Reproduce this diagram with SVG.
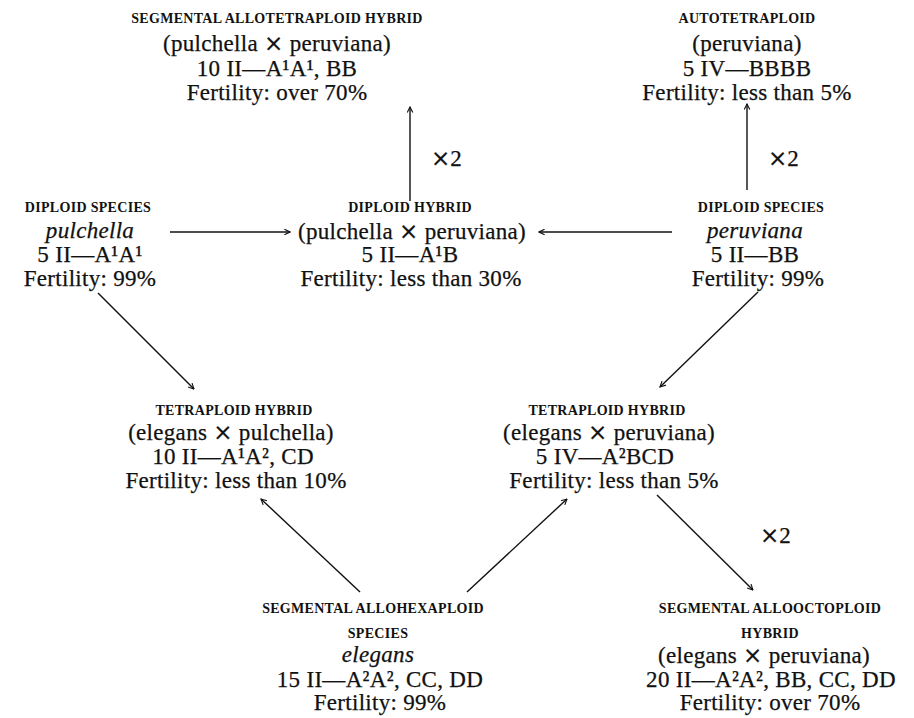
<svg xmlns="http://www.w3.org/2000/svg" width="914" height="718" viewBox="0 0 914 718">
<style>
  text { font-family: "Liberation Serif", "Times New Roman", serif; fill: #111; text-anchor: middle; }
  .h { font-size: 14px; font-weight: bold; letter-spacing: 0.3px; }
  .t { font-size: 23px; letter-spacing: 0.3px; stroke: #111; stroke-width: 0.25px; }
  .i { font-style: italic; }
  .x { font-size: 23px; text-anchor: start; stroke: #111; stroke-width: 0.25px; }
  .m { font-family: "DejaVu Sans", sans-serif; font-size: 23px; }
  .c line { stroke: #111; stroke-width: 1.4; fill: none; marker-end: url(#ah); }
</style>
<defs>
  <marker id="ah" viewBox="0 0 10 10" refX="9" refY="5" markerWidth="7" markerHeight="7" markerUnits="userSpaceOnUse" orient="auto">
    <path d="M1,1 L9,5 L1,9" fill="none" stroke="#111" stroke-width="1.6"/>
  </marker>
</defs>
<rect width="914" height="718" fill="#fff"/>

<g id="n-allotetraploid">
  <text class="h" x="277" y="23">SEGMENTAL ALLOTETRAPLOID HYBRID</text>
  <text class="t" x="277" y="51">(pulchella <tspan class="m">×</tspan> peruviana)</text>
  <text class="t" x="277" y="76">10 II—A¹A¹, BB</text>
  <text class="t" x="277" y="100">Fertility: over 70%</text>
</g>

<g id="n-autotetraploid">
  <text class="h" x="747" y="23">AUTOTETRAPLOID</text>
  <text class="t" x="747" y="51">(peruviana)</text>
  <text class="t" x="747" y="76">5 IV—BBBB</text>
  <text class="t" x="747" y="100">Fertility: less than 5%</text>
</g>

<g id="n-pulchella">
  <text class="h" x="88" y="212">DIPLOID SPECIES</text>
  <text class="t i" x="90" y="238">pulchella</text>
  <text class="t" x="90" y="262">5 II—A¹A¹</text>
  <text class="t" x="90" y="286">Fertility: 99%</text>
</g>

<g id="n-diploid-hybrid">
  <text class="h" x="410" y="212">DIPLOID HYBRID</text>
  <text class="t" x="412" y="239">(pulchella <tspan class="m">×</tspan> peruviana)</text>
  <text class="t" x="410" y="262">5 II—A¹B</text>
  <text class="t" x="411" y="286">Fertility: less than 30%</text>
</g>

<g id="n-peruviana">
  <text class="h" x="761" y="212">DIPLOID SPECIES</text>
  <text class="t i" x="755" y="238">peruviana</text>
  <text class="t" x="755" y="262">5 II—BB</text>
  <text class="t" x="758" y="286">Fertility: 99%</text>
</g>

<g id="n-tetra-pulchella">
  <text class="h" x="234" y="415">TETRAPLOID HYBRID</text>
  <text class="t" x="231" y="440">(elegans <tspan class="m">×</tspan> pulchella)</text>
  <text class="t" x="233" y="464">10 II—A¹A², CD</text>
  <text class="t" x="236" y="488">Fertility: less than 10%</text>
</g>

<g id="n-tetra-peruviana">
  <text class="h" x="607" y="415">TETRAPLOID HYBRID</text>
  <text class="t" x="609" y="440">(elegans <tspan class="m">×</tspan> peruviana)</text>
  <text class="t" x="605" y="464">5 IV—A²BCD</text>
  <text class="t" x="614" y="488">Fertility: less than 5%</text>
</g>

<g id="n-elegans">
  <text class="h" x="373" y="613">SEGMENTAL ALLOHEXAPLOID</text>
  <text class="h" x="378" y="638">SPECIES</text>
  <text class="t i" x="378" y="662">elegans</text>
  <text class="t" x="380" y="687">15 II—A²A², CC, DD</text>
  <text class="t" x="380" y="710">Fertility: 99%</text>
</g>

<g id="n-allooctoploid">
  <text class="h" x="770" y="613">SEGMENTAL ALLOOCTOPLOID</text>
  <text class="h" x="770" y="638">HYBRID</text>
  <text class="t" x="764" y="663">(elegans <tspan class="m">×</tspan> peruviana)</text>
  <text class="t" x="771" y="687">20 II—A²A², BB, CC, DD</text>
  <text class="t" x="770" y="710">Fertility: over 70%</text>
</g>

<g id="connectors" class="c">
  <line x1="410" y1="201" x2="410" y2="107"/>
  <line x1="747" y1="190" x2="747" y2="104"/>
  <line x1="170" y1="232" x2="290" y2="232"/>
  <line x1="672" y1="232" x2="539" y2="232"/>
  <line x1="98" y1="293" x2="194" y2="389"/>
  <line x1="758" y1="292" x2="660" y2="387"/>
  <line x1="360" y1="592" x2="261" y2="499"/>
  <line x1="467" y1="592" x2="567" y2="499"/>
  <line x1="657" y1="495" x2="753" y2="590"/>
  <text class="x" x="431" y="166"><tspan class="m">×</tspan>2</text>
  <text class="x" x="768" y="166"><tspan class="m">×</tspan>2</text>
  <text class="x" x="760" y="543"><tspan class="m">×</tspan>2</text>
</g>
</svg>
